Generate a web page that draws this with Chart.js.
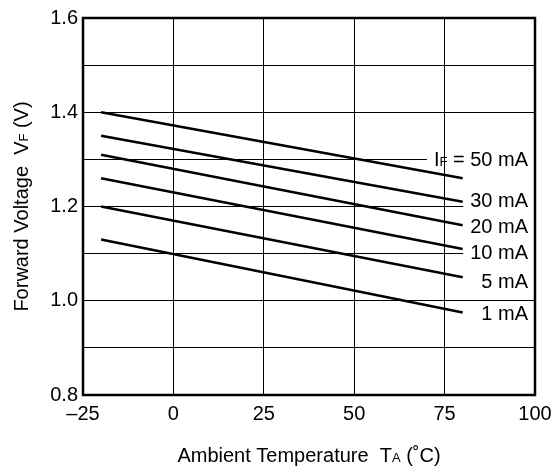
<!DOCTYPE html>
<html>
<head>
<meta charset="utf-8">
<script src="https://cdn.jsdelivr.net/npm/chart.js@4.4.1/dist/chart.umd.min.js"></script>
<style>
html,body{margin:0;padding:0;background:#fff;}
canvas{display:block;}
</style>
</head>
<body>
<canvas id="c" width="554" height="468"></canvas>
<script>
// ---- data ----
const temps = [-20, 80];
const currents = ['50 mA', '30 mA', '20 mA', '10 mA', '5 mA', '1 mA'];
const vStart = [1.40, 1.35, 1.31, 1.26, 1.20, 1.13];
const vEnd   = [1.26, 1.21, 1.16, 1.11, 1.05, 0.975];
const labelV = [1.30, 1.213, 1.158, 1.103, 1.041, 0.974];
const xMin = -25, xMax = 100, xStep = 25;
const yMin = 0.8, yMax = 1.6, yStep = 0.1;

const FONT = '"Liberation Sans", Arial, Helvetica, sans-serif';
const TICK_SIZE = 20, LABEL_SIZE = 20, SUB_SIZE = 13, TITLE_SIZE = 20, TITLE_SUB = 13;

function drawParts(ctx, parts, x, y, align) {
  let total = 0;
  parts.forEach(p => { ctx.font = p.size + 'px ' + FONT; p.w = ctx.measureText(p.t).width; total += p.w; });
  let sx = align === 'right' ? x - total : (align === 'center' ? x - total / 2 : x);
  ctx.textAlign = 'left';
  ctx.textBaseline = 'alphabetic';
  parts.forEach(p => { ctx.font = p.size + 'px ' + FONT; ctx.fillText(p.t, sx, y); sx += p.w; });
}

function labelParts(i) {
  if (i === 0) return [{t: 'I', size: LABEL_SIZE}, {t: 'F', size: SUB_SIZE}, {t: ' = ' + currents[i], size: LABEL_SIZE}];
  return [{t: currents[i], size: LABEL_SIZE}];
}

const decor = {
  id: 'decor',
  beforeDatasetsDraw(chart) {
    const {ctx, chartArea: a, scales: {x, y}} = chart;
    ctx.save();
    currents.forEach((c, i) => {
      const parts = labelParts(i);
      let total = 0;
      parts.forEach(p => { ctx.font = p.size + 'px ' + FONT; total += ctx.measureText(p.t).width; });
      const cy = y.getPixelForValue(labelV[i]);
      const right = a.right - 7;
      const left = right - total - 7;
      ctx.fillStyle = '#fff';
      ctx.fillRect(left, cy - 9, a.right - left - 1, 18);
    });
    ctx.strokeStyle = '#000';
    ctx.lineWidth = 1;
    for (let v = xMin + xStep; v < xMax; v += xStep) {
      const px = Math.round(x.getPixelForValue(v) - 0.5) + 0.5;
      ctx.beginPath();
      ctx.moveTo(px, a.top);
      ctx.lineTo(px, a.bottom);
      ctx.stroke();
    }
    ctx.restore();
  },
  afterDraw(chart) {
    const {ctx, chartArea: a, scales: {y}} = chart;
    ctx.save();
    ctx.fillStyle = '#000';
    currents.forEach((c, i) => {
      const cy = y.getPixelForValue(labelV[i]);
      drawParts(ctx, labelParts(i), a.right - 7, cy + 7, 'right');
    });
    ctx.strokeStyle = '#000';
    ctx.lineWidth = 2.5;
    ctx.strokeRect(a.left, a.top, a.right - a.left, a.bottom - a.top);
    drawParts(ctx, [
      {t: 'Ambient Temperature  T', size: TITLE_SIZE},
      {t: 'A', size: TITLE_SUB},
      {t: ' (˚C)', size: TITLE_SIZE}
    ], (a.left + a.right) / 2, 462, 'center');
    ctx.translate(28, (a.top + a.bottom) / 2);
    ctx.rotate(-Math.PI / 2);
    drawParts(ctx, [
      {t: 'Forward Voltage  V', size: TITLE_SIZE},
      {t: 'F', size: TITLE_SUB},
      {t: ' (V)', size: TITLE_SIZE}
    ], 0, 0, 'center');
    ctx.restore();
  }
};

new Chart(document.getElementById('c'), {
  type: 'line',
  data: {
    datasets: currents.map((c, i) => ({
      label: c,
      data: [{x: temps[0], y: vStart[i]}, {x: temps[1], y: vEnd[i]}],
      borderColor: '#000',
      borderWidth: 2.5,
      pointRadius: 0,
      fill: false,
      tension: 0
    }))
  },
  options: {
    responsive: false,
    animation: false,
    events: [],
    layout: {padding: {left: 0, right: 19, top: 18, bottom: 0}},
    plugins: {legend: {display: false}, tooltip: {enabled: false}},
    scales: {
      x: {
        type: 'linear', min: xMin, max: xMax,
        ticks: {
          stepSize: xStep, autoSkip: false, maxRotation: 0, padding: 7, color: '#000',
          font: {family: FONT, size: TICK_SIZE},
          callback: v => v < 0 ? '–' + Math.abs(v) : String(v)
        },
        grid: {color: '#000', lineWidth: 1, drawTicks: false, tickLength: 0},
        border: {display: false},
        afterFit: s => { s.height = 73; s.paddingLeft = 0; s.paddingRight = 0; }
      },
      y: {
        type: 'linear', min: yMin, max: yMax,
        ticks: {
          stepSize: yStep, autoSkip: false, padding: 5, color: '#000',
          font: {family: FONT, size: TICK_SIZE},
          callback: v => (Math.round(v * 10) % 2 === 0) ? v.toFixed(1) : ''
        },
        grid: {color: '#000', lineWidth: 1, drawTicks: false, tickLength: 0},
        border: {display: false},
        afterFit: s => { s.width = 83; s.paddingTop = 0; s.paddingBottom = 0; }
      }
    }
  },
  plugins: [decor]
});
</script>
</body>
</html>
